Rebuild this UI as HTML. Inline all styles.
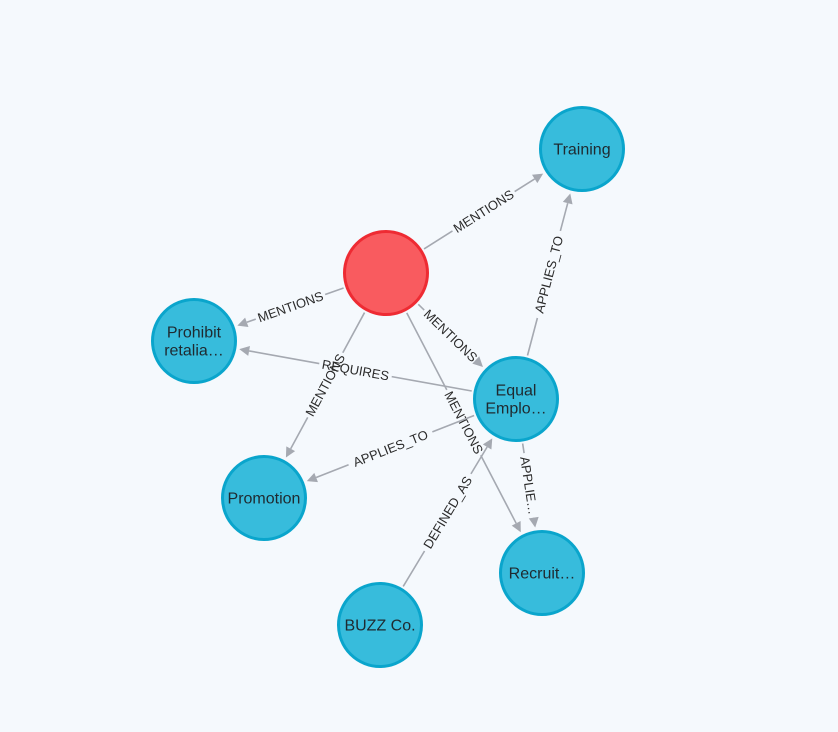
<!DOCTYPE html>
<html><head><meta charset="utf-8"><style>
html,body{margin:0;padding:0;background:#f5f9fd;}
svg{display:block;font-family:"Liberation Sans",Arial,sans-serif;}
</style></head><body>
<svg id="s" width="838" height="732" viewBox="0 0 838 732" xmlns="http://www.w3.org/2000/svg">
<rect width="838" height="732" fill="#f5f9fd"/>
<g id="edges"></g><g id="nodes"></g>
</svg>
<script>
var N={
R:[386,273,'#f95b5f','#ee2b33',[]],
T:[582,149,'#37bcdc','#0aa5cc',['Training']],
P:[194,341,'#37bcdc','#0aa5cc',['Prohibit','retalia…']],
E:[516,399,'#37bcdc','#0aa5cc',['Equal','Emplo…']],
M:[264,498,'#37bcdc','#0aa5cc',['Promotion']],
C:[542,573,'#37bcdc','#0aa5cc',['Recruit…']],
B:[380,625,'#37bcdc','#0aa5cc',['BUZZ Co.']]
};
var r=43;
var E=[['R','T','MENTIONS'],['R','P','MENTIONS'],['R','E','MENTIONS'],['R','M','MENTIONS'],['R','C','MENTIONS'],
['E','P','REQUIRES'],['E','T','APPLIES_TO'],['E','M','APPLIES_TO'],['E','C','APPLIE…'],['B','E','DEFINED_AS']];
var ns='http://www.w3.org/2000/svg',eg=document.getElementById('edges'),ng=document.getElementById('nodes');
function el(t,a,p){var e=document.createElementNS(ns,t);for(var k in a)e.setAttribute(k,a[k]);p.appendChild(e);return e;}
E.forEach(function(e){
 var a=N[e[0]],b=N[e[1]];var dx=b[0]-a[0],dy=b[1]-a[1],L=Math.hypot(dx,dy),ux=dx/L,uy=dy/L;
 var sx=a[0]+ux*(r+2),sy=a[1]+uy*(r+2),tx=b[0]-ux*(r+3),ty=b[1]-uy*(r+3);
 var mx=(sx+tx)/2,my=(sy+ty)/2;
 var tw=e[2].length*8.2+8;
 var ax=tx-ux*10,ay=ty-uy*10;
 el('line',{x1:sx,y1:sy,x2:mx-ux*tw/2,y2:my-uy*tw/2,stroke:'#a5a9b1','stroke-width':1.6},eg);
 el('line',{x1:mx+ux*tw/2,y1:my+uy*tw/2,x2:ax,y2:ay,stroke:'#a5a9b1','stroke-width':1.6},eg);
 var px=-uy,py=ux;
 el('polygon',{points:tx+','+ty+' '+(ax+px*5)+','+(ay+py*5)+' '+(ax-px*5)+','+(ay-py*5),fill:'#a5a9b1'},eg);
 var ang=Math.atan2(dy,dx)*180/Math.PI;if(ang>90)ang-=180;if(ang<-90)ang+=180;
 var t=el('text',{x:0,y:4.5,'text-anchor':'middle','font-size':13,fill:'#2b2b2b',transform:'translate('+mx+','+my+') rotate('+ang+')'},eg);
 t.textContent=e[2];
});
for(var k in N){var n=N[k];
 el('circle',{cx:n[0],cy:n[1],r:r-1.5,fill:n[2],stroke:n[3],'stroke-width':3},ng);
 var lines=n[4];
 lines.forEach(function(s,i){var t=el('text',{x:n[0],y:n[1]+5.5+(i-(lines.length-1)/2)*18,'text-anchor':'middle','font-size':16,fill:'#1f2a30'},ng);t.textContent=s;});
}
</script>
</body></html>
